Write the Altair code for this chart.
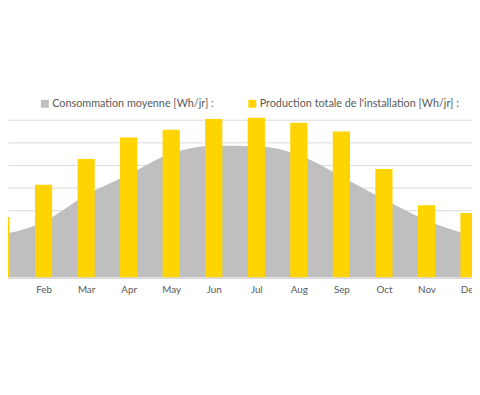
import json
import altair as alt
import pandas as pd

months = ["Jan", "Feb", "Mar", "Apr", "May", "Jun", "Jul", "Aug", "Sep", "Oct", "Nov", "Dec"]
consommation = [1900, 2470, 3670, 4590, 5520, 5860, 5840, 5450, 4500, 3480, 2550, 1890]
production = [2690, 4130, 5270, 6230, 6580, 7060, 7110, 6890, 6500, 4830, 3220, 2870]
series = ["Consommation moyenne [Wh/jr] :", "Production totale de l'installation [Wh/jr] :"]
grid_values = [0, 1000, 2000, 3000, 4000, 5000, 6000, 7000]

rows = []
for i, m in enumerate(months):
    rows.append({"m": i + 1, "month": m, "value": consommation[i], "serie": series[0]})
    rows.append({"m": i + 1, "month": m, "value": production[i], "serie": series[1]})
df = pd.DataFrame(rows)

label_expr = json.dumps(months) + "[datum.value - 1]"

x = alt.X(
    "m:Q",
    scale=alt.Scale(domain=[1.164, 12.07], nice=False, zero=False, padding=0),
    axis=alt.Axis(
        values=list(range(1, 13)), labelExpr=label_expr, grid=False, ticks=False,
        domainColor="#D9D9D9", labelColor="#595959", labelFont="Lato", labelFontSize=10,
        labelPadding=7, labelFlush=False, labelOverlap=False, title=None,
    ),
)
y = alt.Y(
    "value:Q",
    scale=alt.Scale(domain=[0, 11877], nice=False, padding=0),
    axis=alt.Axis(values=grid_values, grid=True, gridColor="#D9D9D9", labels=False,
                  ticks=False, domain=False, title=None),
)
color = alt.Color(
    "serie:N",
    scale=alt.Scale(domain=series, range=["#BFBFBF", "#FFD400"]),
    legend=alt.Legend(
        orient="none", legendX=32, legendY=89, direction="horizontal", title=None,
        symbolType="square", symbolSize=64, symbolStrokeWidth=0, symbolOpacity=1,
        labelFont="Lato", labelFontSize=11, labelColor="#595959", labelOffset=2,
        columnPadding=33, labelLimit=400,
    ),
)

area = alt.Chart(df).transform_filter(alt.datum.serie == series[0]).mark_area(
    interpolate="monotone", clip=True, opacity=1
).encode(x=x, y=y, color=color)

bars = alt.Chart(df).transform_filter(alt.datum.serie == series[1]).mark_bar(
    size=17.5, clip=True
).encode(x=x, y=y, color=color)

chart = alt.layer(area, bars).properties(
    width=472, height=271.5,
    autosize=alt.AutoSizeParams(type="none"),
    padding={"left": 0, "top": 0, "right": 0, "bottom": 40},
).configure_view(stroke=None)

chart.save("out.html", embed_options={"renderer": "svg", "actions": False})
